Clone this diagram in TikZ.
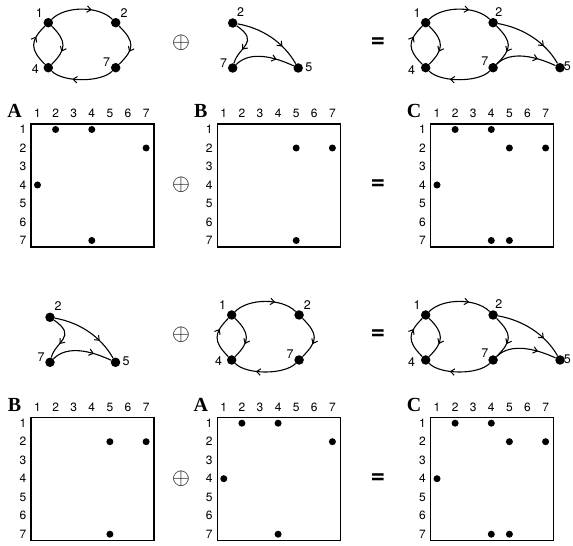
\documentclass[tikz,border=0pt]{standalone}
\usepackage{fontspec}
\setmainfont{TeX Gyre Heros}
\newfontfamily\lettfont{Liberation Serif}
\usetikzlibrary{arrows.meta,decorations.markings,calc}
\tikzset{
  gnode/.style={circle,fill=black,inner sep=0pt,minimum size=9.5pt},
  mdot/.style={circle,fill=black,inner sep=0pt,minimum size=7pt},
  glbl/.style={inner sep=0pt,font=\fontsize{12.5}{12.5}\selectfont},
  mlbl/.style={inner sep=0pt,font=\fontsize{12}{12}\selectfont},
  conn/.style={line width=1.1pt},
  midarrow/.style={postaction={decorate,decoration={markings,mark=at position #1 with {\arrow{Straight Barb[length=4pt,width=6.5pt,line width=1pt]}}}}},
  midarrow/.default=0.65,
  mframe/.style={draw,line width=1.2pt,minimum size=123pt,inner sep=0pt,outer sep=0pt,anchor=north west},
  mletter/.style={inner sep=0pt,anchor=base,font=\lettfont\bfseries\fontsize{20}{20}\selectfont},
  opsym/.style={inner sep=0pt,scale=2.3,font=\fontsize{10}{10}\selectfont},
  eqsym/.style={inner sep=0pt,font=\bfseries\fontsize{25}{25}\selectfont},
}
% cycle graph 1->2->7->4->1, 1->4
\newcommand\cyclegraph[2]{%
  \begin{scope}[shift={(#1)}]
    \node[gnode] (#2-1) at (0,0) {};
    \node[gnode] (#2-2) at (67.4,0) {};
    \node[gnode] (#2-4) at (0,-45) {};
    \node[gnode] (#2-7) at (67.4,-45) {};
    \draw[conn,midarrow] (#2-1) .. controls +(45:24) and +(135:24) .. (#2-2);
    \draw[conn,midarrow] (#2-2) .. controls +(-45:27) and +(45:27) .. (#2-7);
    \draw[conn,midarrow] (#2-7) .. controls +(-135:21) and +(-45:21) .. (#2-4);
    \draw[conn,midarrow] (#2-1) .. controls +(-45:26) and +(45:26) .. (#2-4);
    \draw[conn,midarrow=0.7] (#2-4) .. controls +(135:26) and +(-135:26) .. (#2-1);
  \end{scope}}
% graph 2->7, 2->5, 7->5 ; #1 = position of node 2
\newcommand\trigraph[2]{%
  \begin{scope}[shift={(#1)}]
    \node[gnode] (#2-2) at (0,0) {};
    \node[gnode] (#2-7) at (0,-45) {};
    \node[gnode] (#2-5) at (65.5,-45) {};
    \draw[conn,midarrow] (#2-2) .. controls +(-35:34) and +(75:22) .. (#2-7);
    \draw[conn,midarrow=0.7] (#2-2) .. controls +(-10:30) and +(120:30) .. (#2-5);
    \draw[conn,midarrow=0.7] (#2-7) .. controls +(45:25) and +(155:26) .. (#2-5);
  \end{scope}}
% union graph
\newcommand\uniongraph[2]{%
  \cyclegraph{#1}{#2}
  \begin{scope}[shift={(#1)}]
    \node[gnode] (#2-5) at (134.3,-45) {};
    \draw[conn,midarrow=0.7] (#2-2) .. controls +(-10:30) and +(120:30) .. (#2-5);
    \draw[conn,midarrow=0.7] (#2-7) .. controls +(45:25) and +(155:26) .. (#2-5);
  \end{scope}}
\newcommand\glab[3]{\node[glbl] (#1-l) at ($(#1)+(#2)$) {#3};}
% adjacency matrix: #1 top-left, #2 letter, #3 prefix, #4 list i/j
\newcommand\adjmatrix[4]{%
  \begin{scope}[shift={(#1)}]
    \node[mframe] (#3-box) at (0,0) {};
    \node[mletter] (#3-name) at (-16.5,6.5) {#2};
    \foreach \j in {1,...,7} \node[mlbl,anchor=base] (#3-c\j) at ({6.5+(\j-1)*18.1},6.5) {\j};
    \foreach \i in {1,...,7} \node[mlbl] (#3-r\i) at (-8,{-(5.5+(\i-1)*18.5)}) {\i};
    \foreach \i/\j in {#4} \node[mdot] (#3-d\i\j) at ({6.5+(\j-1)*18.1},{-(5.5+(\i-1)*18.5)}) {};
  \end{scope}}
\begin{document}
\begin{tikzpicture}[x=1pt,y=1pt]
\useasboundingbox (0,0) rectangle (573,546);
% ---------- top half ----------
\cyclegraph{48.3,523.3}{ta}
\glab{ta-1}{-9,10}{1}\glab{ta-2}{8.3,10}{2}\glab{ta-4}{-13,-1.5}{4}\glab{ta-7}{-9,5.5}{7}
\trigraph{232.7,523}{tb}
\glab{tb-2}{8,10.8}{2}\glab{tb-7}{-9,4.7}{7}\glab{tb-5}{10.7,1}{5}
\uniongraph{425.7,523.3}{tc}
\glab{tc-1}{-8.7,10}{1}\glab{tc-2}{5.7,10.5}{2}\glab{tc-4}{-14,-2.3}{4}\glab{tc-7}{-8.3,7}{7}\glab{tc-5}{7.3,1}{5}
\node[opsym] (op1) at (181,503.5) {$\oplus$};
\node[eqsym] (eq1) at (378,503.5) {=};
\adjmatrix{31,422}{A}{ma}{1/2,1/4,2/7,4/1,7/4}
\adjmatrix{217.3,422}{B}{mb}{2/5,2/7,7/5}
\adjmatrix{430.5,422}{C}{mc}{1/2,1/4,2/5,2/7,4/1,7/4,7/5}
\node[opsym] (op2) at (181,361) {$\oplus$};
\node[eqsym] (eq2) at (378,361) {=};
% ---------- bottom half ----------
\trigraph{50,228.7}{bb}
\glab{bb-2}{8,10.8}{2}\glab{bb-7}{-9,4.7}{7}\glab{bb-5}{10.7,1}{5}
\cyclegraph{231.7,231}{ba}
\glab{ba-1}{-9,10}{1}\glab{ba-2}{8.3,10}{2}\glab{ba-4}{-13,-1.5}{4}\glab{ba-7}{-9,5.5}{7}
\uniongraph{425.7,231}{bc}
\glab{bc-1}{-8.7,10}{1}\glab{bc-2}{5.7,10.5}{2}\glab{bc-4}{-14,-2.3}{4}\glab{bc-7}{-8.3,7}{7}\glab{bc-5}{7.3,1}{5}
\node[opsym] (op3) at (181,211) {$\oplus$};
\node[eqsym] (eq3) at (378,211) {=};
\adjmatrix{31,128.3}{B}{nb}{2/5,2/7,7/5}
\adjmatrix{217.3,128.3}{A}{na}{1/2,1/4,2/7,4/1,7/4}
\adjmatrix{430.5,128.3}{C}{nc}{1/2,1/4,2/5,2/7,4/1,7/4,7/5}
\node[opsym] (op4) at (181,67.5) {$\oplus$};
\node[eqsym] (eq4) at (378,67.5) {=};
\end{tikzpicture}
\end{document}
